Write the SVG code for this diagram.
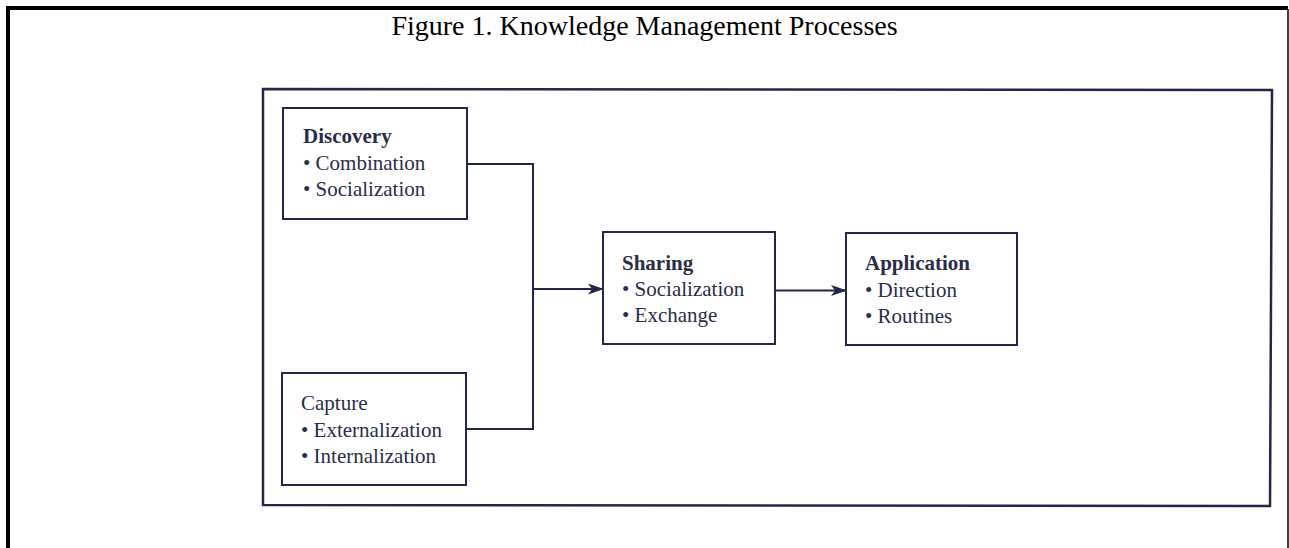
<svg xmlns="http://www.w3.org/2000/svg" width="1289" height="548" viewBox="0 0 1289 548">
<style>
.box{fill:#fff;stroke:#23284a;stroke-width:2}
.t{font-family:'Liberation Serif','Times New Roman',serif;font-size:21px;fill:#2a2e48}
.b{font-weight:bold}
.conn{fill:none;stroke:#23284a;stroke-width:2}
</style>
<defs>
<marker id="arr" viewBox="0 0 16 11" refX="15" refY="5.5" markerWidth="16" markerHeight="11" markerUnits="userSpaceOnUse" orient="auto">
<path d="M0,0 L16,5.5 L0,11 L4,5.5 Z" fill="#23284a"/>
</marker>
</defs>
<rect width="1289" height="548" fill="#fff"/>
<g id="page-border" fill="none" stroke="#000">
<path d="M8,548 V8 H1288" stroke-width="4"/>
<line x1="1288" y1="9" x2="1288" y2="548" stroke-width="1.5"/>
</g>
<text x="644.5" y="35" text-anchor="middle" font-family="'Liberation Serif','Times New Roman',serif" font-size="28" fill="#000">Figure 1. Knowledge Management Processes</text>
<g id="frame">
<path d="M263,89 L1272,90 L1270,506 L263,505 Z" fill="none" stroke="#23284a" stroke-width="2.5"/>
</g>
<g id="connectors">
<path class="conn" d="M467,164 H533 V429 H466"/>
<line class="conn" x1="533" y1="289" x2="603" y2="289" marker-end="url(#arr)"/>
<line class="conn" x1="775" y1="290.5" x2="846" y2="290.5" marker-end="url(#arr)"/>
</g>
<g id="discovery">
<rect class="box" x="283" y="108" width="184" height="111"/>
<text class="t b" x="303" y="143">Discovery</text>
<text class="t" x="303" y="170">• Combination</text>
<text class="t" x="303" y="196">• Socialization</text>
</g>
<g id="capture">
<rect class="box" x="282" y="373" width="184" height="112"/>
<text class="t" x="301" y="410">Capture</text>
<text class="t" x="301" y="437">• Externalization</text>
<text class="t" x="301" y="463">• Internalization</text>
</g>
<g id="sharing">
<rect class="box" x="603" y="232" width="172" height="112"/>
<text class="t b" x="622" y="270">Sharing</text>
<text class="t" x="622" y="296">• Socialization</text>
<text class="t" x="622" y="322">• Exchange</text>
</g>
<g id="application">
<rect class="box" x="846" y="233" width="171" height="112"/>
<text class="t b" x="865" y="270">Application</text>
<text class="t" x="865" y="297">• Direction</text>
<text class="t" x="865" y="323">• Routines</text>
</g>
</svg>
